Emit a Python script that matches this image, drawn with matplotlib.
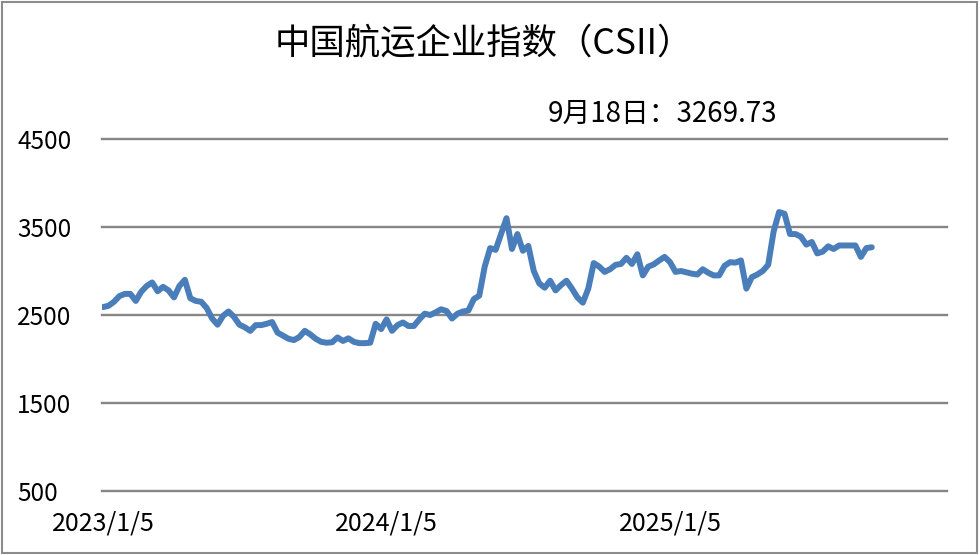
import matplotlib
matplotlib.use('Agg')
import matplotlib.pyplot as plt
import numpy as np
from matplotlib.patches import Rectangle

plt.rcParams['font.family'] = ['Noto Sans CJK SC', 'DejaVu Sans']

# weekly CSII values, 2023/1/5 .. 2025/9/18
csii = [
    2590, 2605, 2650, 2715, 2740, 2740, 2660, 2765, 2830, 2870,
    2770, 2820, 2780, 2700, 2830, 2900, 2690, 2660, 2650, 2580,
    2460, 2390, 2490, 2540, 2480, 2390, 2360, 2320, 2385, 2385,
    2400, 2420, 2300, 2265, 2230, 2215, 2250, 2320, 2280, 2230,
    2195, 2185, 2190, 2245, 2205, 2235, 2195, 2180, 2180, 2185,
    2400, 2340, 2450, 2320, 2385, 2415, 2375, 2375, 2450, 2515,
    2500, 2530, 2565, 2545, 2460, 2515, 2540, 2550, 2680, 2720,
    3050, 3260, 3240, 3420, 3600, 3250, 3420, 3230, 3285, 3000,
    2860, 2810, 2890, 2780, 2840, 2890, 2800, 2700, 2640, 2800,
    3090, 3050, 2990, 3020, 3070, 3080, 3150, 3080, 3190, 2950,
    3050, 3075, 3120, 3160, 3100, 2990, 3000, 2985, 2970, 2960,
    3020, 2980, 2950, 2950, 3060, 3100, 3095, 3120, 2800, 2930,
    2960, 3000, 3070, 3450, 3670, 3650, 3420, 3420, 3390, 3300,
    3330, 3200, 3220, 3280, 3250, 3290, 3290, 3290, 3290, 3160,
    3260, 3269.73,
]
x_labels = ['2023/1/5', '2024/1/5', '2025/1/5']
x_label_pos = [0, 52, 104]
y_ticks = [500, 1500, 2500, 3500, 4500]

title = '中国航运企业指数（CSII）'
note = '9月18日：3269.73'

fig = plt.figure(figsize=(9.8, 5.55), dpi=100)
ax = fig.add_axes([102/980, 1-491/555, 845/980, 352/555])

weeks = np.arange(len(csii))
ax.plot(weeks, csii, color='#4a7ebb', lw=4.3, solid_joinstyle='round',
        solid_capstyle='round', zorder=3)

ax.set_ylim(500, 4500)
ax.set_xlim(-0.2, 154.8)
ax.set_yticks(y_ticks)
ax.set_yticklabels([str(v) for v in y_ticks], ha='left', fontsize=17.5)
ax.set_xticks(x_label_pos)
ax.set_xticklabels(x_labels, fontsize=18)
ax.tick_params(axis='y', length=0, pad=61)
ax.tick_params(axis='x', length=0, pad=14)

ax.grid(axis='y', color='#868686', lw=1.7)
for gl in ax.get_ygridlines():
    gl.set_clip_on(False)
for s in ax.spines.values():
    s.set_visible(False)

fig.text(0.494, 1-43/555, title, ha='center', va='center', fontsize=25.5)
fig.text(548/980, 1-114/555, note, ha='left', va='center', fontsize=20)

# outer chart frame
fig.patches.append(Rectangle((0.002, 0.003), 0.995, 0.993,
                             transform=fig.transFigure, fill=False,
                             edgecolor='#8c8c8c', lw=1.5))

fig.savefig('out.png', dpi=100)
